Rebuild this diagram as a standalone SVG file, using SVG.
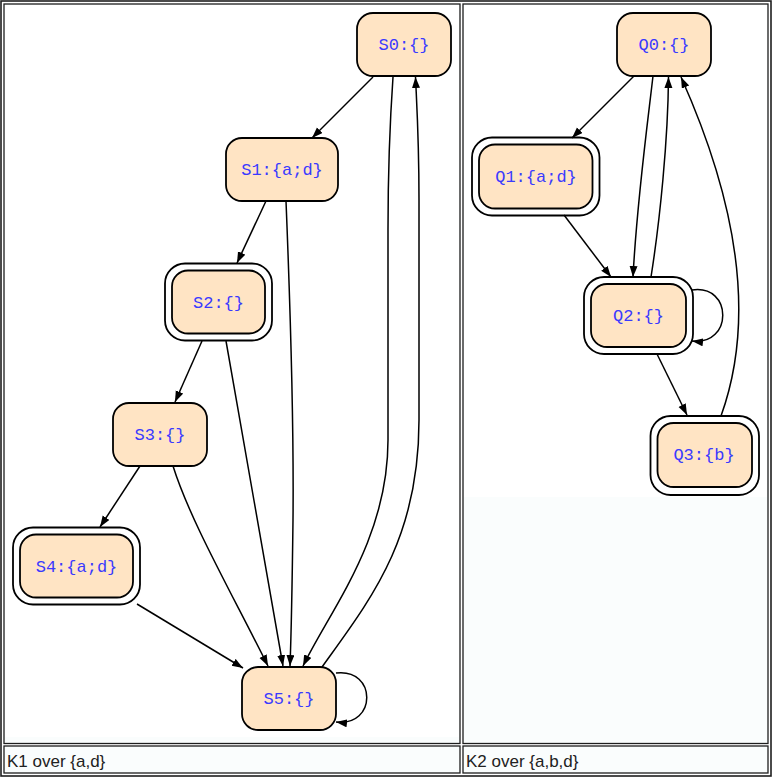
<svg xmlns="http://www.w3.org/2000/svg" width="772" height="777" viewBox="0 0 772 777">
<style>
.cell{fill:#fafdfd;stroke:#1e1e1e;stroke-width:1.3}
.gbg{fill:#ffffff}
.node{fill:#ffe4c4;stroke:#000;stroke-width:1.8}
.ring{fill:none;stroke:#000;stroke-width:1.8}
.lbl{font-family:"Liberation Mono","DejaVu Sans Mono",monospace;font-size:17px;fill:#3a3aff;text-anchor:middle}
.cap{font-family:"Liberation Sans",Arial,sans-serif;font-size:17px;fill:#222}
.edge{fill:none;stroke:#000;stroke-width:1.5;marker-end:url(#ah)}
</style>
<defs>
<marker id="ah" markerUnits="userSpaceOnUse" markerWidth="12" markerHeight="9" refX="11" refY="4" orient="auto">
<path d="M0,0 L11,4 L0,8 z" fill="#000"/>
</marker>
</defs>
<rect x="0" y="0" width="772" height="777" fill="#ffffff"/>
<rect x="1" y="1" width="770" height="775" fill="none" stroke="#1e1e1e" stroke-width="1.6"/>
<rect class="cell" x="4" y="4" width="456" height="739.5"/>
<rect class="cell" x="463" y="4" width="305" height="739.5"/>
<rect class="cell" x="4" y="746" width="456" height="27"/>
<rect class="cell" x="463" y="746" width="305" height="27"/>
<rect class="gbg" x="5" y="5" width="454" height="732"/>
<rect class="gbg" x="464" y="5" width="303" height="492"/>
<text class="cap" x="7" y="767">K1 over {a,d}</text>
<text class="cap" x="466" y="767">K2 over {a,b,d}</text>

<g id="connectors">
<path class="edge" d="M373,77 L312,138"/>
<path class="edge" d="M393,77 C390,120 388,160 388,230 L388,440 C388,540 330,610 303,666"/>
<path class="edge" d="M322,667 C370,600 419,540 419,420 L419,200 C419,140 417,110 415.5,77"/>
<path class="edge" d="M266,201 L237,263"/>
<path class="edge" d="M286,201 C290,300 294,420 293,520 C292,600 291,640 290,666"/>
<path class="edge" d="M202,341 L175,402"/>
<path class="edge" d="M226,341 C245,450 265,560 283,666"/>
<path class="edge" d="M140,466 L100,527"/>
<path class="edge" d="M173,466 C190,520 230,590 268,666"/>
<path class="edge" d="M137,604 L243,668"/>
<path class="edge" d="M336,673 C377,668 377,727 336,722"/>
<path class="edge" d="M634,76 L572,138"/>
<path class="edge" d="M653,76 C648,120 637,200 633,277"/>
<path class="edge" d="M651,277 C660,220 668,140 668.5,77"/>
<path class="edge" d="M721,416 C752,330 745,220 681,77"/>
<path class="edge" d="M564,215 L611,277"/>
<path class="edge" d="M692,290 C733,284 733,346 692,341"/>
<path class="edge" d="M657,354 L687,415"/>
</g>

<g id="S0"><rect class="node" x="357" y="13" width="94" height="63" rx="16"/><text class="lbl" x="404" y="50">S0:{}</text></g>
<g id="S1"><rect class="node" x="226" y="138" width="112" height="63" rx="16"/><text class="lbl" x="282" y="175">S1:{a;d}</text></g>
<g id="S2"><rect class="ring" x="165" y="263.5" width="107" height="77" rx="20"/><rect class="node" x="172" y="270.5" width="93" height="63" rx="16"/><text class="lbl" x="218.5" y="307.5">S2:{}</text></g>
<g id="S3"><rect class="node" x="113" y="403" width="94" height="63" rx="16"/><text class="lbl" x="160" y="440">S3:{}</text></g>
<g id="S4"><rect class="ring" x="13" y="527.5" width="127" height="77" rx="20"/><rect class="node" x="20" y="534.5" width="113" height="63" rx="16"/><text class="lbl" x="76.5" y="571.5">S4:{a;d}</text></g>
<g id="S5"><rect class="node" x="242" y="667" width="94" height="63" rx="16"/><text class="lbl" x="289" y="704">S5:{}</text></g>

<g id="Q0"><rect class="node" x="617" y="13" width="94" height="63" rx="16"/><text class="lbl" x="664" y="50">Q0:{}</text></g>
<g id="Q1"><rect class="ring" x="472" y="137.5" width="127.5" height="78" rx="20"/><rect class="node" x="479" y="144.5" width="113.5" height="64" rx="16"/><text class="lbl" x="536" y="182">Q1:{a;d}</text></g>
<g id="Q2"><rect class="ring" x="584" y="277" width="109" height="77" rx="20"/><rect class="node" x="591" y="284" width="95" height="63" rx="16"/><text class="lbl" x="638.5" y="321">Q2:{}</text></g>
<g id="Q3"><rect class="ring" x="650.5" y="416" width="108.5" height="79" rx="20"/><rect class="node" x="657.5" y="423" width="94.5" height="64" rx="16"/><text class="lbl" x="704" y="460">Q3:{b}</text></g>
</svg>
